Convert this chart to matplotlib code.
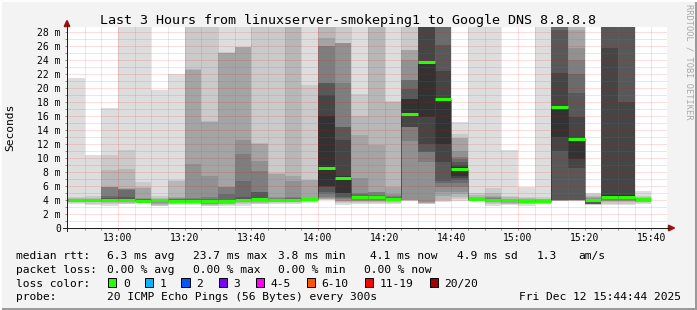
import matplotlib
matplotlib.use("Agg")
import matplotlib.pyplot as plt
from matplotlib.patches import Rectangle, Polygon
from matplotlib.lines import Line2D
import numpy as np

plt.rcParams['font.family'] = ['DejaVu Sans Mono']

# ---------------- data ----------------
title = "Last 3 Hours from linuxserver-smokeping1 to Google DNS 8.8.8.8"
y_label = "Seconds"
watermark = "RRDTOOL / TOBI OETIKER"
time_labels = ["13:00", "13:20", "13:40", "14:00", "14:20", "14:40", "15:00", "15:20", "15:40"]
y_tick_values = list(range(0, 29, 2))
y_tick_labels = ["0"] + ["%d m" % v for v in y_tick_values[1:]]

# 5-minute bins from 12:45 to 15:40 (minutes after midnight of bin start)
bin_start = [12 * 60 + 45 + 5 * i for i in range(35)]

median_ms = [3.95, 3.95, 3.95, 3.95, 3.9, 3.95, 3.9, 3.8, 3.8, 3.8,
             4.0, 4.1, 4.05, 4.0, 4.1, 8.6, 7.2, 4.4, 4.4, 4.15,
             16.3, 23.7, 18.5, 8.5, 4.1, 4.05, 3.95, 3.9, 3.9, 17.3,
             12.7, 4.0, 4.5, 4.5, 4.1]
loss_count = [0] * 35

# upper ends of the ping pairs (outermost pair first), ms; 30 = off the chart
smoke_upper = [
    [21.4, 4.4, 4.3, 4.2, 4.1, 4.1, 4.0, 4.0, 4.0, 4.0],
    [10.4, 4.6, 4.3, 4.2, 4.1, 4.1, 4.0, 4.0, 4.0, 4.0],
    [17.1, 10.4, 8.3, 5.9, 5.8, 5.8, 4.6, 4.3, 4.1, 4.0],
    [30, 11.1, 8.4, 5.7, 5.6, 5.6, 5.5, 4.4, 4.1, 4.0],
    [30, 6.6, 5.8, 5.7, 4.3, 4.2, 4.1, 4.0, 4.0, 3.95],
    [19.7, 4.6, 4.3, 4.2, 4.1, 4.0, 4.0, 4.0, 3.95, 3.95],
    [22.0, 6.8, 6.7, 4.4, 4.3, 4.2, 4.1, 4.0, 4.0, 4.0],
    [30, 30, 22.7, 22.6, 9.2, 4.3, 4.1, 4.0, 3.9, 3.9],
    [30, 30, 15.3, 15.2, 7.4, 4.4, 4.1, 3.9, 3.85, 3.8],
    [30, 25.1, 25.0, 25.0, 5.9, 5.8, 4.8, 4.0, 3.9, 3.85],
    [30, 25.9, 25.8, 25.8, 12.6, 10.6, 6.7, 4.4, 4.2, 4.1],
    [30, 30, 12.1, 12.0, 9.6, 8.2, 5.2, 5.1, 4.3, 4.2],
    [30, 30, 7.8, 7.7, 4.4, 4.3, 4.2, 4.2, 4.1, 4.1],
    [30, 30, 30, 7.5, 6.7, 4.4, 4.3, 4.2, 4.1, 4.1],
    [30, 20.4, 6.9, 6.8, 4.3, 4.2, 4.2, 4.1, 4.1, 4.1],
    [30, 30, 30, 27.2, 26.0, 26.0, 20.7, 20.7, 19.0, 16.0],
    [30, 30, 26.4, 26.4, 26.4, 20.7, 14.5, 14.5, 12.6, 7.4],
    [30, 19.1, 16.0, 13.3, 7.1, 5.0, 4.8, 4.6, 4.5, 4.5],
    [30, 30, 30, 11.8, 5.2, 5.1, 4.7, 4.6, 4.5, 4.5],
    [30, 18.1, 18.0, 5.9, 4.8, 4.6, 4.4, 4.3, 4.3, 4.2],
    [30, 30, 25.4, 25.4, 24.0, 21.1, 21.1, 19.9, 18.5, 18.4],
    [30, 30, 30, 30, 30, 30, 30, 30, 30, 23.9],
    [30, 30, 30, 30, 30, 30, 30, 26.1, 22.4, 18.6],
    [15.1, 13.5, 12.9, 12.9, 11.0, 10.2, 9.8, 9.5, 9.0, 8.7],
    [30, 5.0, 4.7, 4.5, 4.3, 4.2, 4.2, 4.2, 4.1, 4.1],
    [30, 5.7, 5.0, 4.6, 4.4, 4.3, 4.2, 4.2, 4.15, 4.1],
    [11.1, 4.6, 4.4, 4.2, 4.1, 4.05, 4.0, 4.0, 4.0, 4.0],
    [5.9, 4.5, 4.3, 4.1, 4.0, 4.0, 3.95, 3.95, 3.95, 3.95],
    [30, 4.4, 4.2, 4.1, 4.0, 4.0, 3.95, 3.95, 3.9, 3.9],
    [30, 30, 30, 30, 30, 30, 30, 28.3, 22.1, 17.4],
    [30, 30, 30, 28.3, 25.7, 24.0, 22.0, 19.3, 15.9, 12.9],
    [5.0, 4.8, 4.6, 4.5, 4.3, 4.2, 4.1, 4.0, 4.0, 4.0],
    [30, 30, 30, 30, 30, 30, 30, 30, 25.7, 4.7],
    [30, 30, 30, 30, 30, 30, 30, 30, 18.0, 4.7],
    [5.3, 4.6, 4.4, 4.3, 4.2, 4.1, 4.1, 4.05, 4.0, 4.0],
]
# lower ends of the ping pairs (outermost pair first), ms
smoke_lower = [
    [3.4, 3.6, 3.7, 3.8, 3.85, 3.9, 3.9, 3.95, 3.95, 3.95],
    [3.3, 3.5, 3.7, 3.8, 3.85, 3.9, 3.9, 3.95, 3.95, 3.95],
    [3.1, 3.4, 3.6, 3.7, 3.8, 3.85, 3.9, 3.9, 3.95, 3.95],
    [3.4, 3.5, 3.6, 3.7, 3.8, 3.85, 3.9, 3.9, 3.95, 3.95],
    [3.6, 3.7, 3.75, 3.8, 3.85, 3.85, 3.9, 3.9, 3.9, 3.9],
    [3.1, 3.2, 3.3, 3.5, 3.6, 3.7, 3.8, 3.85, 3.9, 3.9],
    [3.3, 3.4, 3.5, 3.6, 3.7, 3.75, 3.8, 3.85, 3.9, 3.9],
    [3.3, 3.4, 3.5, 3.55, 3.6, 3.65, 3.7, 3.75, 3.8, 3.8],
    [3.1, 3.2, 3.3, 3.4, 3.5, 3.55, 3.6, 3.65, 3.7, 3.75],
    [3.2, 3.3, 3.4, 3.5, 3.55, 3.6, 3.65, 3.7, 3.7, 3.75],
    [3.2, 3.4, 3.6, 3.7, 3.75, 3.8, 3.85, 3.9, 3.95, 3.95],
    [3.4, 3.5, 3.6, 3.7, 3.8, 3.85, 3.9, 3.95, 4.0, 4.0],
    [3.5, 3.6, 3.7, 3.8, 3.85, 3.9, 3.95, 4.0, 4.0, 4.0],
    [3.5, 3.6, 3.7, 3.8, 3.85, 3.9, 3.95, 3.95, 4.0, 4.0],
    [3.6, 3.7, 3.8, 3.85, 3.9, 3.95, 4.0, 4.0, 4.05, 4.05],
    [4.0, 4.05, 4.1, 4.2, 4.3, 4.5, 4.8, 5.2, 5.9, 5.95],
    [3.3, 3.6, 3.7, 3.8, 3.9, 4.1, 4.3, 4.5, 5.0, 5.0],
    [3.4, 3.6, 3.7, 3.8, 3.9, 4.0, 4.1, 4.2, 4.3, 4.3],
    [3.5, 3.6, 3.7, 3.8, 3.9, 4.0, 4.1, 4.2, 4.3, 4.3],
    [3.4, 3.6, 3.7, 3.8, 3.9, 4.0, 4.0, 4.05, 4.1, 4.1],
    [3.8, 3.9, 3.95, 4.0, 4.0, 12.5, 14.5, 14.5, 14.5, 16.2],
    [3.5, 3.5, 3.6, 3.6, 3.7, 9.5, 10.9, 10.9, 12.0, 15.9],
    [3.7, 3.8, 4.0, 4.6, 5.1, 5.9, 6.4, 6.7, 9.4, 12.0],
    [3.9, 4.1, 4.4, 4.8, 5.2, 5.8, 6.4, 6.9, 7.2, 7.5],
    [3.8, 3.9, 3.95, 4.0, 4.0, 4.0, 4.0, 4.05, 4.05, 4.05],
    [3.2, 3.4, 3.6, 3.7, 3.8, 3.9, 3.95, 4.0, 4.0, 4.0],
    [3.3, 3.4, 3.5, 3.6, 3.7, 3.8, 3.85, 3.9, 3.9, 3.9],
    [3.2, 3.4, 3.5, 3.6, 3.7, 3.8, 3.85, 3.9, 3.9, 3.9],
    [3.4, 3.5, 3.6, 3.7, 3.75, 3.8, 3.85, 3.85, 3.9, 3.9],
    [3.8, 3.85, 3.9, 3.9, 3.95, 3.95, 4.0, 4.0, 11.0, 13.0],
    [3.85, 3.9, 3.9, 3.95, 3.95, 4.0, 4.0, 4.0, 8.6, 9.8],
    [3.3, 3.35, 3.4, 3.45, 3.5, 3.5, 3.5, 3.5, 3.75, 3.85],
    [3.3, 3.5, 3.7, 3.8, 3.9, 4.0, 4.1, 4.2, 4.3, 4.35],
    [3.3, 3.5, 3.7, 3.8, 3.9, 4.0, 4.1, 4.2, 4.3, 4.35],
    [3.5, 3.6, 3.7, 3.75, 3.8, 3.85, 3.9, 3.9, 3.9, 3.95],
]

stat_rtt = ["median rtt:", "6.3 ms avg", "23.7 ms max", "3.8 ms min", "4.1 ms now", "4.9 ms sd", "1.3", "am/s"]
stat_loss = ["packet loss:", "0.00 % avg", "0.00 % max", "0.00 % min", "0.00 % now"]
loss_labels = ["0", "1", "2", "3", "4-5", "6-10", "11-19", "20/20"]
loss_colors = ["#26ff00", "#00b8ff", "#0059ff", "#7e00ff", "#ff00ff", "#ff5500", "#ff0000", "#a10000"]
probe_text = ["probe:", "20 ICMP Echo Pings (56 Bytes) every 300s"]
date_text = "Fri Dec 12 15:44:44 2025"

# ---------------- figure ----------------
W, H = 697, 310
fig = plt.figure(figsize=(W / 100, H / 100), dpi=100, facecolor='#f3f3f3')


def fx(x):
    return x / W


def fy(y):
    return 1 - y / H


PX = 72 / 100  # points per pixel

x0, x1, ytop, ybot = 67, 667, 27.3, 228
ax = fig.add_axes([fx(x0), fy(ybot), (x1 - x0) / W, (ybot - ytop) / H])
ax.set_facecolor('white')
t_end = 15 * 60 + 44 + 44 / 60
ax.set_xlim(t_end - 180, t_end)
ax.set_ylim(0, (ybot - ytop) / 7.0)
for s in ax.spines.values():
    s.set_visible(False)

starts = np.array(bin_start, dtype=float)
up = np.array(smoke_upper, dtype=float)
lo = np.array(smoke_lower, dtype=float)
for k in range(10):
    g = int(190 / 10 * (10 - (k + 1))) + 50
    col = '#%02x%02x%02x' % (g, g, g)
    ax.bar(starts, up[:, k] - lo[:, k], bottom=lo[:, k], width=5, align='edge',
           color=col, linewidth=0, antialiased=False, zorder=1 + k * 0.01)

# grid (dotted)
dot = (0, (1, 1))
MAJ = (1.0, 0.0, 0.0, 0.26)
MIN = (0.45, 0.45, 0.45, 0.32)
for v in range(1, 29):
    ax.axhline(v, color=MAJ if v % 2 == 0 else MIN, lw=PX, ls=dot, zorder=3)
major_t = [13 * 60 + 20 * i for i in range(9)]
for t in range(12 * 60 + 50, 15 * 60 + 45, 5):
    ax.axvline(t, color=MAJ if t in major_t else MIN, lw=PX, ls=dot, zorder=3)

# median
med = np.array(median_ms)
for i in range(len(med) - 1):
    if abs(med[i + 1] - med[i]) > 0.3:
        ax.vlines(starts[i + 1], min(med[i], med[i + 1]), max(med[i], med[i + 1]),
                  colors='#202020', linestyles=dot, lw=PX, zorder=6)
line_cols = [loss_colors[c] for c in loss_count]
ax.hlines(med, starts, starts + 5, colors=line_cols, lw=3 * PX, zorder=7, capstyle='butt')

# ticks
ax.set_xticks(major_t)
ax.set_xticklabels(time_labels, fontsize=7)
ax.set_xticks(list(range(12 * 60 + 50, 15 * 60 + 45, 5)), minor=True)
ax.set_yticks(y_tick_values)
ax.set_yticklabels(y_tick_labels, fontsize=7)
ax.set_yticks(list(range(1, 29, 2)), minor=True)
ax.tick_params(axis='both', which='both', length=2 * PX, width=PX, color='#909090')
ax.tick_params(axis='x', which='major', pad=2.3)
ax.tick_params(axis='y', which='major', pad=3.0)

# axes lines with arrows
fig.add_artist(Line2D([fx(63), fx(669)], [fy(228), fy(228)], color='#202020', lw=PX))
fig.add_artist(Line2D([fx(67), fx(67)], [fy(231), fy(25)], color='#202020', lw=PX))
fig.add_artist(Polygon([[fx(67), fy(20.5)], [fx(64.2), fy(26.5)], [fx(69.8), fy(26.5)]],
                       closed=True, color='#9b1010', transform=fig.transFigure))
fig.add_artist(Polygon([[fx(674.5), fy(228)], [fx(668.5), fy(225.2)], [fx(668.5), fy(230.8)]],
                       closed=True, color='#9b1010', transform=fig.transFigure))

# texts
fig.text(fx(348.5), fy(24), title, ha='center', va='baseline', fontsize=9.6, color='#000')
fig.text(fx(10.5), fy(127.5), y_label, rotation=90, ha='center', va='center', fontsize=8.1)
fig.text(fx(689), fy(4), watermark, rotation=270, ha='center', va='top', fontsize=6.2, color='#a8a8a8')

lx1 = [16, 107, 192.6, 278, 370, 457, 536.3, 578.4]
for s, x in zip(stat_rtt, lx1):
    fig.text(fx(x), fy(259), s, fontsize=8.1, va='baseline')
lx2 = [16, 107, 192.6, 278.3, 363.8]
for s, x in zip(stat_loss, lx2):
    fig.text(fx(x), fy(272.8), s, fontsize=8.1, va='baseline')
fig.text(fx(16), fy(286.6), "loss color:", fontsize=8.1, va='baseline')
lx3 = [123, 159.5, 196.5, 233.5, 270.5, 321.5, 379.5, 444.5]
for s, c, x in zip(loss_labels, loss_colors, lx3):
    fig.add_artist(Rectangle((fx(x - 15), fy(286.8)), 8.4 / W, 8.8 / H, facecolor=c,
                             edgecolor='black', lw=PX, transform=fig.transFigure))
    fig.text(fx(x), fy(286.6), s, fontsize=8.1, va='baseline')
fig.text(fx(16), fy(300.4), probe_text[0], fontsize=8.1, va='baseline')
fig.text(fx(107), fy(300.4), probe_text[1], fontsize=8.1, va='baseline')
fig.text(fx(681), fy(300.4), date_text, fontsize=8.1, va='baseline', ha='right')

# frame
fig.add_artist(Line2D([0, 1], [fy(309), fy(309)], color='#9a9a9a', lw=2 * PX))
fig.add_artist(Line2D([fx(696), fx(696)], [0, 1], color='#9a9a9a', lw=2 * PX))
fig.add_artist(Line2D([0, 1], [fy(1), fy(1)], color='#fdfdfd', lw=2 * PX))
fig.add_artist(Line2D([fx(1), fx(1)], [0, 1], color='#fdfdfd', lw=2 * PX))

fig.savefig('out.png', dpi=100, facecolor=fig.get_facecolor())
